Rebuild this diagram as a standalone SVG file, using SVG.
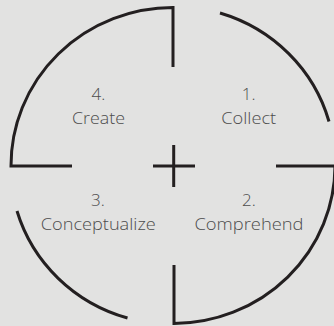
<svg xmlns="http://www.w3.org/2000/svg" width="334" height="326" viewBox="0 0 334 326">
<style>
.arc{fill:none;stroke:#231f20;stroke-width:3;stroke-linecap:butt;stroke-linejoin:miter}
.t{font-family:"Open Sans","Liberation Sans",sans-serif;font-weight:300;font-size:17px;fill:#4d4d4d;text-anchor:middle}
</style>
<rect width="334" height="326" fill="#e2e2e1"/>
<g id="connectors">
<path id="q4" class="arc" d="M72,166 L11,166 A162 158 0 0 1 173,7.5 L173,67"/>
<path id="q1" class="arc" d="M220,13 A162 158 0 0 1 329,121.5"/>
<path id="q2" class="arc" d="M276,166 L335,166 A162 158 0 0 1 174,323.5 L174,265"/>
<path id="q3" class="arc" d="M17,211 A162 158 0 0 0 127.5,318"/>
<path id="plus" class="arc" d="M153,166 H195 M173.7,145 V187"/>
</g>
<g id="node-collect">
<text class="t" x="248.7" y="100">1.</text>
<text class="t" x="248.7" y="124" textLength="55" lengthAdjust="spacingAndGlyphs">Collect</text>
</g>
<g id="node-comprehend">
<text class="t" x="249" y="206">2.</text>
<text class="t" x="249" y="229.5" textLength="109" lengthAdjust="spacingAndGlyphs">Comprehend</text>
</g>
<g id="node-conceptualize">
<text class="t" x="98" y="206">3.</text>
<text class="t" x="98.3" y="229.5" textLength="115" lengthAdjust="spacingAndGlyphs">Conceptualize</text>
</g>
<g id="node-create">
<text class="t" x="98.5" y="100">4.</text>
<text class="t" x="98.5" y="124" textLength="53" lengthAdjust="spacingAndGlyphs">Create</text>
</g>
</svg>
